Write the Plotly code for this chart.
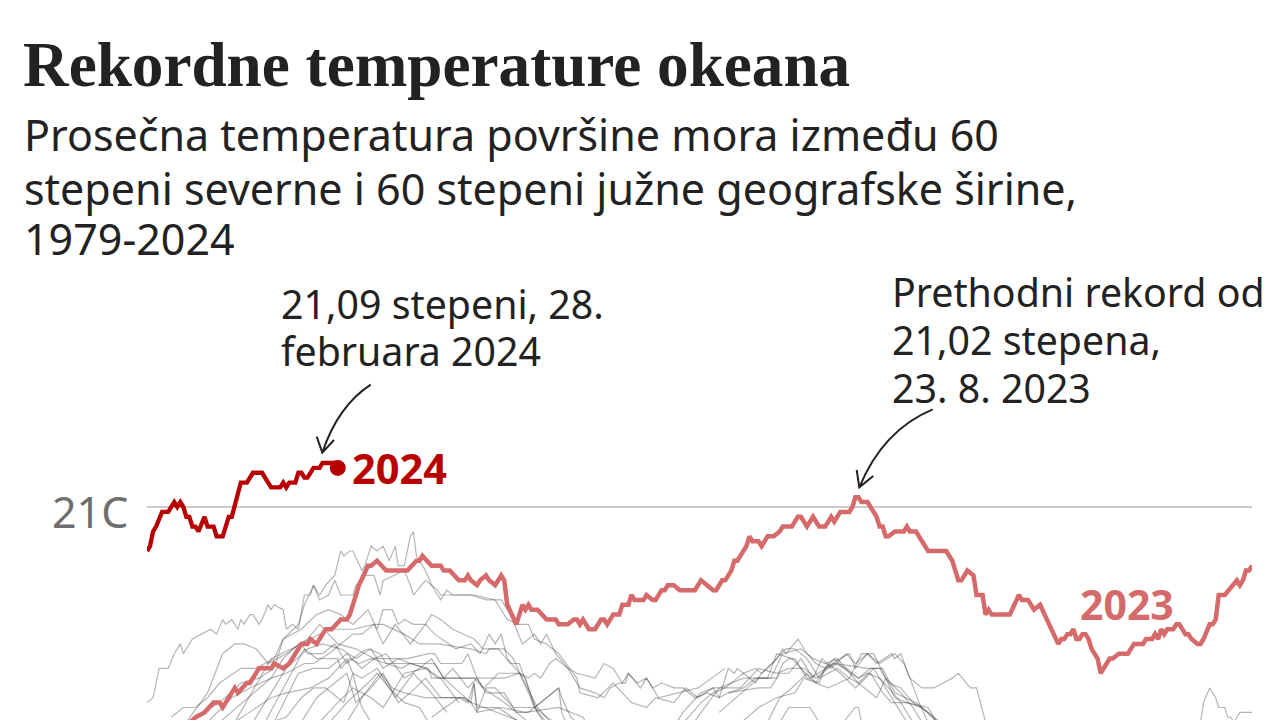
import plotly.graph_objects as go

# Dani u godini i temperature (C), ocitano sa slike
dani_2024 = [1, 2, 3, 4, 6, 8, 10, 11, 12, 13, 14, 15, 16, 17, 18, 20, 21, 23, 24, 26, 28, 29, 32, 34, 36, 39,
             42, 45, 46, 47, 48, 50, 51, 52, 53, 54, 56, 58, 59, 63, 64]
temp_2024 = [20.91, 20.92, 20.95, 20.96, 20.99, 20.99, 21.01, 21.00, 21.01, 21.00, 20.98, 20.98, 20.96, 20.96,
             20.95, 20.98, 20.96, 20.96, 20.94, 20.94, 20.98, 20.98, 21.05, 21.05, 21.07, 21.07,
             21.04, 21.04, 21.05, 21.04, 21.05, 21.05, 21.07, 21.07, 21.06, 21.06, 21.08, 21.08, 21.09, 21.09, 21.08]

dani_2023 = [1, 10, 17, 20, 23, 25, 26, 30, 31, 34, 35, 38, 42, 43, 46, 48, 52, 54, 55, 57, 60, 62, 65, 67, 68,
             71, 74, 75, 77, 80, 87, 90, 91, 92, 95, 98, 99, 101, 104, 106, 107, 108, 110, 111, 113, 114, 116,
             118, 119, 120, 123, 125, 126, 127, 128, 130, 133, 136, 137, 140, 142, 143, 144, 145, 147, 149,
             151, 152, 153, 155, 157, 158, 160, 161, 162, 165, 166, 168, 169, 171, 172, 173, 175, 177, 182,
             184, 186, 188, 189, 191, 192, 194, 195, 196, 199, 200, 201, 203, 204, 206, 208, 210, 211, 214,
             216, 217, 219, 221, 223, 225, 227, 228, 230, 233, 234, 235, 236, 237, 239, 242, 243, 244, 245,
             246, 248, 251, 252, 253, 255, 259, 265, 267, 269, 270, 272, 274, 275, 277, 278, 279, 280, 286,
             289, 290, 292, 294, 296, 300, 302, 303, 304, 305, 306, 307, 308, 309, 310, 311, 312, 313, 315,
             316, 319, 320, 322, 325, 327, 330, 331, 333, 334, 335, 336, 337, 338, 340, 341, 342, 344, 345,
             346, 348, 349, 350, 352, 353, 354, 355, 357, 361, 362, 363, 364, 365, 366]
temp_2023 = [20.50, 20.53, 20.57, 20.58, 20.60, 20.60, 20.59, 20.63, 20.62, 20.64, 20.64, 20.67, 20.67, 20.68,
             20.67, 20.68, 20.72, 20.72, 20.73, 20.72, 20.75, 20.75, 20.77, 20.77, 20.78,
             20.84, 20.88, 20.88, 20.89, 20.87, 20.87, 20.89, 20.89, 20.90, 20.88, 20.88, 20.87, 20.87, 20.85,
             20.85, 20.86, 20.85, 20.84, 20.85, 20.86, 20.85, 20.84,
             20.86, 20.85, 20.80, 20.76, 20.80, 20.79, 20.80, 20.79, 20.79, 20.77, 20.77, 20.76, 20.76, 20.77,
             20.77, 20.76, 20.77, 20.75, 20.75,
             20.77, 20.77, 20.76, 20.78, 20.78, 20.80, 20.80, 20.82, 20.81, 20.81, 20.82, 20.81, 20.81, 20.83,
             20.83, 20.84, 20.84, 20.83, 20.83,
             20.85, 20.84, 20.83, 20.83, 20.85, 20.85, 20.87, 20.89, 20.89, 20.92, 20.94, 20.93, 20.93, 20.92,
             20.94, 20.94, 20.95, 20.96, 20.96,
             20.98, 20.98, 20.96, 20.98, 20.96, 20.96, 20.98, 20.97, 20.99, 20.99, 21.00, 21.02, 21.02, 21.01,
             21.01, 20.98, 20.96, 20.96, 20.94,
             20.94, 20.95, 20.95, 20.96, 20.95, 20.95, 20.91, 20.91, 20.89, 20.85, 20.85, 20.87, 20.86, 20.82,
             20.82, 20.78, 20.79, 20.78, 20.78,
             20.82, 20.81, 20.81, 20.79, 20.80, 20.75, 20.72, 20.73, 20.73, 20.74, 20.74, 20.75, 20.73, 20.73,
             20.74, 20.74, 20.73, 20.71, 20.69,
             20.66, 20.69, 20.69, 20.70, 20.70, 20.72, 20.72, 20.73, 20.73, 20.74, 20.73, 20.75, 20.74, 20.75,
             20.75, 20.76, 20.76, 20.74, 20.74,
             20.73, 20.72, 20.72, 20.73, 20.76, 20.76, 20.77, 20.82, 20.82, 20.85, 20.84, 20.85, 20.87, 20.87, 20.88]

# Ranije godine, sive linije
dani_g1 = [1, 3, 5, 8, 10, 12, 13, 15, 16, 19, 22, 24, 26, 27, 29, 31, 32, 33, 35, 36, 38, 39, 41, 42, 43, 46, 47,
           49, 51, 53, 55, 56, 58, 60, 63, 65, 66, 68, 69, 72, 73, 75, 77, 79, 81, 83, 84, 86, 88, 89, 90, 91, 93,
           95, 98, 100, 102, 104, 108, 113, 118, 121, 125, 129, 131, 133, 136, 140, 143, 144, 149, 152, 154, 157,
           159, 160, 163, 166, 168, 171, 175, 178, 182, 186, 190, 193, 195, 196, 198, 202, 204, 206, 209, 211, 212,
           216, 219, 222, 225, 230, 233, 235, 239, 242, 247, 248, 250, 253, 257, 261, 264, 267, 269, 273, 275, 278,
           300, 347, 349, 350, 352, 354, 355, 357, 358, 359, 360, 362, 366]
temp_g1 = [20.60, 20.61, 20.67, 20.67, 20.70, 20.72, 20.70, 20.72, 20.73, 20.74, 20.75, 20.74, 20.77, 20.76, 20.77,
           20.75, 20.77, 20.76, 20.78, 20.78, 20.76, 20.77, 20.80, 20.79, 20.80, 20.79, 20.75,
           20.76, 20.75, 20.82, 20.82, 20.84, 20.82, 20.84, 20.86, 20.91, 20.90, 20.91, 20.91, 20.87, 20.88, 20.92,
           20.91, 20.92, 20.89, 20.92, 20.88, 20.88, 20.94, 20.95, 20.90, 20.89, 20.87,
           20.84, 20.81, 20.83, 20.82, 20.82, 20.82, 20.81, 20.81, 20.78, 20.72, 20.74, 20.72, 20.74, 20.70, 20.67,
           20.64, 20.63, 20.62, 20.61, 20.63, 20.64,
           20.64, 20.66, 20.64, 20.65, 20.63, 20.64, 20.63, 20.63, 20.61, 20.62, 20.61, 20.67, 20.66, 20.67, 20.66,
           20.67, 20.66, 20.67, 20.69, 20.71, 20.70,
           20.73, 20.70, 20.68, 20.67, 20.69, 20.70, 20.67, 20.70, 20.68, 20.70, 20.69, 20.70, 20.65, 20.63, 20.63,
           20.64, 20.65, 20.66, 20.63, 20.63, 20.56,
           20.45, 20.45, 20.56, 20.60, 20.63, 20.61, 20.59, 20.59, 20.57, 20.57, 20.56, 20.58, 20.58]

dani_g2 = [17, 25, 32, 38, 43, 46, 51, 53, 56, 58, 61, 63, 65, 69, 70, 73, 76, 78, 79, 86, 88, 89, 93, 95, 97, 98,
           102, 109, 116, 120, 124, 127, 129, 133, 137, 143, 144, 150, 155, 161, 166, 169, 175, 179, 183, 188, 190,
           197, 200, 203, 209, 213, 218, 222, 228, 232, 236, 240, 243, 246, 250, 254, 259, 263, 270]
temp_g2 = [20.57, 20.60, 20.64, 20.65, 20.67, 20.73, 20.76, 20.80, 20.84, 20.81, 20.82, 20.85, 20.82, 20.82, 20.84,
           20.86, 20.86, 20.82, 20.85, 20.87, 20.84, 20.82, 20.85, 20.84, 20.83, 20.82,
           20.82, 20.82, 20.81, 20.77, 20.76, 20.76, 20.73, 20.72, 20.70, 20.65, 20.62, 20.61, 20.64, 20.60, 20.59,
           20.61, 20.60, 20.63, 20.61, 20.63, 20.63,
           20.63, 20.65, 20.67, 20.66, 20.67, 20.67, 20.65, 20.68, 20.67, 20.65, 20.67, 20.67, 20.64, 20.63, 20.60,
           20.58, 20.56, 20.50]

dani_g3 = [9, 13, 17, 21, 25, 32, 37, 43, 46, 52, 57, 61, 65, 69, 74, 77, 79, 82, 84, 86, 89, 93, 95, 98, 102, 109,
           112, 114, 117, 121, 124, 127, 130, 133, 140, 200, 206, 210, 214, 219, 222, 226, 230, 235, 240, 244, 247,
           252, 259, 262, 270]
temp_g3 = [20.57, 20.59, 20.59, 20.61, 20.64, 20.67, 20.67, 20.69, 20.73, 20.75, 20.78, 20.79, 20.78, 20.76, 20.79,
           20.75, 20.79, 20.79, 20.76, 20.77, 20.76, 20.76, 20.78, 20.77, 20.75, 20.73,
           20.71, 20.71, 20.71, 20.68, 20.68, 20.63, 20.58, 20.56, 20.50, 20.50, 20.56, 20.61, 20.63, 20.66, 20.64,
           20.68, 20.66, 20.63, 20.66, 20.62, 20.60, 20.60, 20.59, 20.56, 20.50]

dani_g4 = [21, 29, 35, 42, 46, 51, 55, 61, 69, 76, 79, 83, 88, 93, 96, 103, 108, 111, 114, 116, 118, 120, 124, 126,
           129, 132, 140, 175, 184, 190, 198, 202, 207, 211, 217, 221, 225, 229, 236, 241, 245, 248, 252, 260]
temp_g4 = [20.56, 20.61, 20.63, 20.65, 20.69, 20.72, 20.73, 20.75, 20.75, 20.76, 20.72, 20.76, 20.72, 20.76, 20.74,
           20.71, 20.72, 20.70, 20.74, 20.72, 20.74, 20.69, 20.66, 20.65,
           20.59, 20.56, 20.50, 20.50, 20.58, 20.63, 20.65, 20.65, 20.65, 20.70, 20.71, 20.69, 20.68, 20.69, 20.64,
           20.67, 20.63, 20.60, 20.56, 20.50]

dani_g5 = [14, 21, 26, 30, 33, 37, 41, 47, 54, 58, 64, 70, 76, 80, 87, 94, 96, 98, 105, 107, 110, 112, 119, 123,
           127, 135]
temp_g5 = [20.56, 20.62, 20.70, 20.72, 20.72, 20.71, 20.68, 20.70, 20.73, 20.76, 20.72, 20.71, 20.69, 20.69, 20.69,
           20.70, 20.70, 20.68, 20.68, 20.70, 20.65, 20.63, 20.60, 20.58, 20.56, 20.50]

dani_g6 = [36, 42, 47, 54, 59, 65, 70, 75, 79, 84, 88, 94, 95, 105, 109, 112, 114, 117, 124, 127, 129, 133, 138]
temp_g6 = [20.56, 20.62, 20.67, 20.71, 20.72, 20.71, 20.69, 20.71, 20.67, 20.69, 20.68, 20.67, 20.65, 20.65, 20.65,
           20.63, 20.64, 20.66, 20.66, 20.62, 20.59, 20.57, 20.55]

dani_g7 = [43, 51, 56, 61, 67, 72, 76, 80, 86, 91, 95, 99, 102, 107, 110, 113, 119, 123, 127, 137, 138, 140]
temp_g7 = [20.56, 20.66, 20.67, 20.67, 20.70, 20.67, 20.69, 20.70, 20.65, 20.67, 20.69, 20.65, 20.67, 20.63, 20.65,
           20.62, 20.62, 20.58, 20.58, 20.63, 20.58, 20.55]

dani_g8 = [52, 57, 63, 67, 70, 75, 79, 84, 88, 93, 98, 105, 108, 109, 110, 117, 124]
temp_g8 = [20.56, 20.61, 20.64, 20.66, 20.60, 20.63, 20.66, 20.60, 20.62, 20.65, 20.61, 20.61, 20.60, 20.64, 20.59,
           20.59, 20.56]

dani_g9 = [58, 64, 69, 75, 79, 86, 93, 98, 104]
temp_g9 = [20.56, 20.60, 20.63, 20.61, 20.59, 20.66, 20.67, 20.65, 20.60]

dani_g10 = [67, 72, 78, 83, 89, 95, 100]
temp_g10 = [20.56, 20.61, 20.66, 20.61, 20.66, 20.62, 20.58]

dani_g11 = [170, 184, 188, 192, 196, 198, 202, 204, 209, 212, 215, 219, 223, 229, 233, 237, 241, 245, 250, 254, 257,
            265]
temp_g11 = [20.50, 20.60, 20.62, 20.63, 20.65, 20.66, 20.64, 20.66, 20.69, 20.71, 20.71, 20.69, 20.65, 20.67, 20.65,
            20.70, 20.70, 20.65, 20.62, 20.59, 20.56, 20.50]

dani_g12 = [205, 210, 213, 220, 223, 228, 231, 235, 236, 237, 242]
temp_g12 = [20.50, 20.56, 20.59, 20.59, 20.56, 20.50, 20.56, 20.59, 20.59, 20.56, 20.50]

dani_g13 = [170, 178, 184, 188, 190, 193, 198, 202, 206, 209, 214, 220, 228, 239, 244, 248, 255, 259, 262, 270]
temp_g13 = [20.50, 20.58, 20.62, 20.63, 20.61, 20.62, 20.63, 20.65, 20.65, 20.70, 20.69, 20.65, 20.68, 20.67, 20.67,
            20.62, 20.60, 20.58, 20.56, 20.50]

dani_g14 = [30, 42, 52, 54, 59, 63, 67, 71, 74, 78, 80, 86, 91, 96, 99, 108, 125]
temp_g14 = [20.56, 20.69, 20.72, 20.70, 20.70, 20.72, 20.68, 20.70, 20.71, 20.70, 20.68, 20.68, 20.68, 20.68, 20.65,
            20.60, 20.56]

dani_g15 = [40, 53, 57, 64, 65, 68, 71, 75, 80, 85, 88, 93, 97, 108, 119, 124, 127, 129, 131, 134, 136, 140, 143,
            149, 152, 155, 158, 160, 164, 166, 170, 183, 192]
temp_g15 = [20.56, 20.71, 20.69, 20.69, 20.67, 20.69, 20.68, 20.69, 20.68, 20.67, 20.68, 20.67, 20.65, 20.65, 20.65,
            20.66, 20.65, 20.66, 20.65, 20.68, 20.69, 20.67, 20.66, 20.65, 20.68, 20.67, 20.64, 20.66, 20.63, 20.65,
            20.61, 20.63, 20.67]

dani_g16 = [30, 42, 47, 55, 61, 67, 69, 72, 77, 82, 86, 93, 101, 106, 108, 110, 118, 126, 137, 145, 146, 152]
temp_g16 = [20.56, 20.61, 20.62, 20.63, 20.65, 20.69, 20.66, 20.65, 20.67, 20.63, 20.62, 20.61, 20.61, 20.61, 20.60,
            20.58, 20.59, 20.58, 20.59, 20.57, 20.56, 20.50]

dani_g17 = [35, 42, 47, 52, 56, 60, 66, 69, 71, 72, 75]
temp_g17 = [20.50, 20.56, 20.57, 20.61, 20.63, 20.63, 20.60, 20.66, 20.61, 20.59, 20.56]

dani_g18 = [60, 67, 74, 77, 81, 86, 91, 94]
temp_g18 = [20.55, 20.60, 20.64, 20.66, 20.63, 20.60, 20.59, 20.56]

dani_g19 = [25, 42, 47, 53, 56, 61, 69, 72, 76, 79, 86, 91, 97, 108, 113, 114, 119, 122, 125, 130, 133, 134]
temp_g19 = [20.56, 20.65, 20.66, 20.68, 20.68, 20.70, 20.74, 20.74, 20.76, 20.76, 20.74, 20.72, 20.72, 20.71, 20.70,
            20.71, 20.71, 20.69, 20.65, 20.59, 20.57, 20.56]

dani_g20 = [95, 104, 107, 109, 110, 113, 116, 122, 129, 133, 137, 138, 141, 145]
temp_g20 = [20.57, 20.61, 20.60, 20.64, 20.58, 20.63, 20.63, 20.59, 20.59, 20.61, 20.63, 20.61, 20.57, 20.55]

dani_g21 = [190, 203, 209, 211, 213, 215, 219, 223, 225, 228, 231, 236, 239, 243, 246, 250, 253, 254, 262]
temp_g21 = [20.58, 20.65, 20.65, 20.68, 20.69, 20.69, 20.65, 20.64, 20.67, 20.69, 20.67, 20.65, 20.66, 20.65, 20.63,
            20.60, 20.57, 20.56, 20.50]

dani_g22 = [190, 203, 209, 215, 218, 222, 226, 233, 236, 240, 242, 245, 248, 252, 257, 262]
temp_g22 = [20.52, 20.59, 20.61, 20.62, 20.65, 20.64, 20.63, 20.65, 20.64, 20.62, 20.61, 20.65, 20.61, 20.60, 20.59,
            20.56]

dani_g23 = [193, 203, 207, 210, 213, 217, 221, 224, 227, 232, 235, 239, 243, 248, 251, 253, 256, 259]
temp_g23 = [20.62, 20.63, 20.63, 20.66, 20.66, 20.69, 20.65, 20.69, 20.67, 20.70, 20.68, 20.70, 20.68, 20.70, 20.68,
            20.65, 20.60, 20.56]

sive_linije = [
    (dani_g1, temp_g1), (dani_g2, temp_g2), (dani_g3, temp_g3), (dani_g4, temp_g4), (dani_g5, temp_g5),
    (dani_g6, temp_g6), (dani_g7, temp_g7), (dani_g8, temp_g8), (dani_g9, temp_g9), (dani_g10, temp_g10),
    (dani_g11, temp_g11), (dani_g12, temp_g12), (dani_g13, temp_g13), (dani_g14, temp_g14), (dani_g15, temp_g15),
    (dani_g16, temp_g16), (dani_g17, temp_g17), (dani_g18, temp_g18), (dani_g19, temp_g19), (dani_g20, temp_g20),
    (dani_g21, temp_g21), (dani_g22, temp_g22), (dani_g23, temp_g23),
]

naslov = "Rekordne temperature okeana"
podnaslov = ["Prosečna temperatura površine mora između 60",
             "stepeni severne i 60 stepeni južne geografske širine,",
             "1979-2024"]
ticks_y = [21]
ticks_y_tekst = ["21C"]

W, H = 1280, 720
OFFSET = 8  # margina stranice u kojoj je grafik
BOJA_TEKST = "#222222"
BOJA_2024 = "#b80000"
BOJA_2023 = "#d66a6a"
FONT = "Noto Sans"

# provera da dani i temperature idu u paru
for i, (dani, temp) in enumerate(sive_linije + [(dani_2023, temp_2023), (dani_2024, temp_2024)]):
    assert len(dani) == len(temp), f"linija {i}: {len(dani)} != {len(temp)}"


def px(x):
    return (x - OFFSET) / W


def py(y):
    return 1 - (y - OFFSET) / H


# putanja u koordinatama stranice, zadato u pikselima
def putanja(tacke):
    return " ".join(f"{k} {px(x):.5f} {py(y):.5f}" if k else f"{px(x):.5f} {py(y):.5f}" for k, x, y in tacke)


fig = go.Figure()
for dani, temp in sive_linije:
    fig.add_trace(go.Scatter(x=dani, y=temp, mode="lines", line=dict(color="rgba(50,50,50,0.36)", width=1.2),
                             hoverinfo="skip"))
fig.add_trace(go.Scatter(x=dani_2023, y=temp_2023, mode="lines", line=dict(color=BOJA_2023, width=4.5)))
fig.add_trace(go.Scatter(x=dani_2024, y=temp_2024, mode="lines", line=dict(color=BOJA_2024, width=4.3)))
fig.add_trace(go.Scatter(x=dani_2024[-1:], y=temp_2024[-1:], mode="markers",
                         marker=dict(color=BOJA_2024, size=16)))


def tekst(x, y, t, size=39.3, color=BOJA_TEKST, family=FONT, bold=False):
    fig.add_annotation(xref="paper", yref="paper", x=px(x), y=py(y), text=f"<b>{t}</b>" if bold else t,
                       showarrow=False, xanchor="left", yanchor="middle",
                       font=dict(size=size, color=color, family=family))


tekst(21, 65, naslov, size=63.2, family="Liberation Serif", bold=True)
for y, red in zip([134, 188, 239], podnaslov):
    tekst(22, y, red, size=43)
tekst(279, 304, "21,09 stepeni, 28.")
tekst(279, 351, "februara 2024")
tekst(890, 292, "Prethodni rekord od")
tekst(890, 340, "21,02 stepena,")
tekst(890, 388, "23. 8. 2023")
tekst(350, 468, "2024", size=41.5, color=BOJA_2024, bold=True)
tekst(1078, 604, "2023", size=41, color=BOJA_2023, bold=True)

# oznaka 21C malo ispod linije, kao na slici
for v, t in zip(ticks_y, ticks_y_tekst):
    fig.add_annotation(xref="paper", yref="y", x=px(130), y=v, yshift=-4, text=t, showarrow=False, xanchor="right",
                       yanchor="middle", font=dict(size=43, color="#6e6e6e", family=FONT))

# strelice
strelice = [
    [("M", 370.7, 384.7), ("Q", 338, 406), ("", 322.3, 452.7),
     ("M", 316.7, 436.7), ("L", 322.3, 452.7), ("L", 334, 440)],
    [("M", 932.7, 409.3), ("Q", 883, 430), ("", 859.3, 487.3),
     ("M", 856.7, 470), ("L", 859.3, 487.3), ("L", 873.3, 476)],
]
for s in strelice:
    fig.add_shape(type="path", xref="paper", yref="paper", path=putanja(s),
                  line=dict(color=BOJA_TEKST, width=2), layer="above")

fig.update_layout(
    width=W, height=H, showlegend=False, plot_bgcolor="white", paper_bgcolor="white",
    margin=dict(l=0, r=0, t=0, b=0),
    xaxis=dict(domain=[px(147), px(1252)], range=[1, 366], visible=False),
    yaxis=dict(domain=[py(720), py(440)], range=[21 - 213 / 489, 21 + 67 / 489], tickvals=ticks_y,
               showticklabels=False, showgrid=True, gridcolor="#cccccc", gridwidth=2, zeroline=False,
               showline=False),
)

fig.write_html("out.html")
